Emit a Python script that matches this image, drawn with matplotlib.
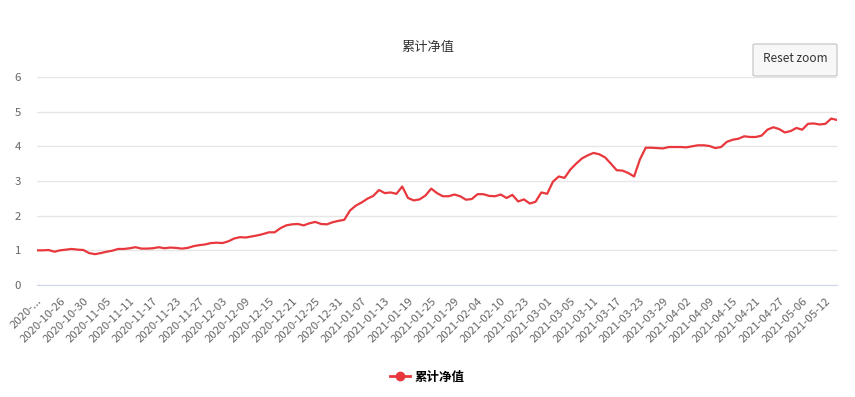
import matplotlib.pyplot as plt
import pandas as pd
from matplotlib.lines import Line2D
from matplotlib.patches import FancyBboxPatch

plt.rcParams['font.family'] = ['Noto Sans CJK SC', 'DejaVu Sans']

# trading days shown on the chart (China A-share calendar)
start_date = '2020-10-20'
end_date = '2021-05-14'
holidays = ['2021-01-01', '2021-02-11', '2021-02-12', '2021-02-15',
            '2021-02-16', '2021-02-17', '2021-04-05', '2021-05-03',
            '2021-05-04', '2021-05-05']

# 累计净值
nav = [1.00, 1.00, 1.01, 0.96, 1.00, 1.02, 1.04, 1.02, 1.01, 0.92,
       0.89, 0.92, 0.96, 0.99, 1.04, 1.04, 1.06, 1.09, 1.05, 1.05,
       1.06, 1.09, 1.06, 1.08, 1.07, 1.05, 1.07, 1.12, 1.15, 1.17,
       1.21, 1.22, 1.21, 1.26, 1.34, 1.38, 1.37, 1.40, 1.43, 1.47,
       1.52, 1.52, 1.64, 1.72, 1.75, 1.76, 1.72, 1.78, 1.82, 1.76,
       1.75, 1.81, 1.85, 1.88, 2.15, 2.29, 2.38, 2.49, 2.57, 2.74,
       2.65, 2.67, 2.63, 2.84, 2.51, 2.44, 2.47, 2.58, 2.78, 2.65,
       2.56, 2.56, 2.61, 2.56, 2.46, 2.48, 2.62, 2.62, 2.57, 2.56,
       2.61, 2.51, 2.60, 2.41, 2.47, 2.35, 2.40, 2.67, 2.63, 2.98,
       3.13, 3.09, 3.33, 3.50, 3.65, 3.74, 3.81, 3.77, 3.68, 3.50,
       3.31, 3.30, 3.23, 3.13, 3.62, 3.96, 3.96, 3.95, 3.94, 3.98,
       3.98, 3.98, 3.97, 4.00, 4.03, 4.03, 4.01, 3.95, 3.98, 4.13,
       4.19, 4.22, 4.29, 4.27, 4.27, 4.31, 4.48, 4.55, 4.50, 4.40,
       4.44, 4.53, 4.48, 4.65, 4.66, 4.63, 4.65, 4.80, 4.76]

days = pd.bdate_range(start_date, end_date)
days = days[~days.isin(pd.to_datetime(holidays))]
dates = [d.strftime('%Y-%m-%d') for d in days][:len(nav)]

red = '#e8383d'

fig = plt.figure(figsize=(8.55, 3.97), dpi=100)
ax = fig.add_axes([37 / 855, 1 - 285 / 397, 800 / 855, 208 / 397])

x = list(range(len(nav)))
ax.plot(x, nav, color=red, lw=1.6, solid_joinstyle='round')

ax.set_xlim(0, len(nav) - 1)
ax.set_ylim(0, 6)
ax.set_yticks(range(7))
ax.grid(axis='y', color='#e6e6e6', lw=1)
ax.set_axisbelow(True)
for s in ['top', 'right', 'left']:
    ax.spines[s].set_visible(False)
ax.spines['bottom'].set_color('#ccd6eb')

tick_idx = list(range(0, len(nav), 4))
labels = [dates[i] for i in tick_idx]
labels[0] = '2020-...'
ax.set_xticks(tick_idx)
ax.set_xticklabels(labels, rotation=45, ha='right', va='top',
                   rotation_mode='anchor')
ax.tick_params(axis='x', length=0, pad=8, labelsize=8.2, labelcolor='#666666')
ax.tick_params(axis='y', length=0, pad=16, labelsize=8.2, labelcolor='#666666')
for lab in ax.get_yticklabels():
    lab.set_horizontalalignment('left')

fig.text(0.5, 1 - 47 / 397, '累计净值', ha='center', va='center',
         fontsize=9.5, color='#333333')

# Reset zoom button
btn = FancyBboxPatch((753 / 855, 1 - 76 / 397), 84 / 855, 32 / 397,
                     boxstyle='round,pad=0,rounding_size=0.003',
                     transform=fig.transFigure, facecolor='#f7f7f7',
                     edgecolor='#cccccc', lw=1)
fig.patches.append(btn)
fig.text(795 / 855, 1 - 59 / 397, 'Reset zoom', ha='center', va='center',
         fontsize=8.5, color='#333333')

handle = Line2D([], [], color=red, lw=2, marker='o', markersize=6)
fig.legend([handle], ['累计净值'], loc='center', bbox_to_anchor=(0.5, 1 - 377 / 397),
           frameon=False, handlelength=1.6, handletextpad=0.4,
           prop={'weight': 'bold', 'size': 9})

fig.savefig('out.png', dpi=100)
